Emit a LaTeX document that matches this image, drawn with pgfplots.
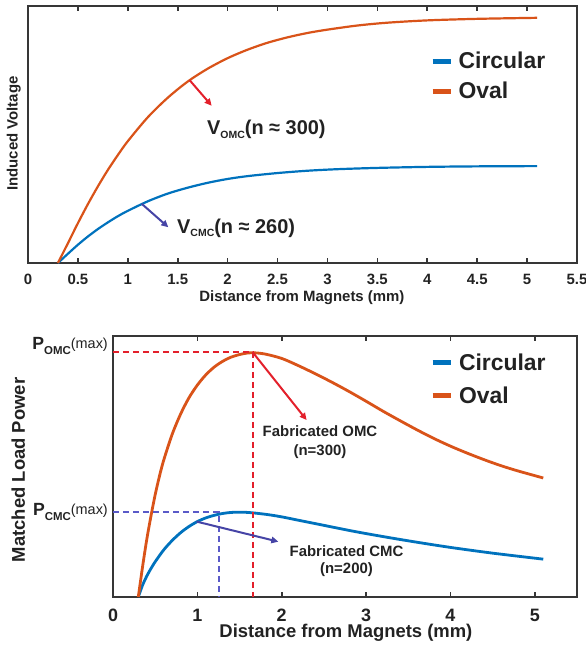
\documentclass[border=0pt]{standalone}
\usepackage{fontspec}
\setmainfont{Liberation Sans}
\usepackage{pgfplots}
\pgfplotsset{compat=1.18}
\usetikzlibrary{arrows.meta}
\definecolor{MBlue}{HTML}{0072BD}
\definecolor{MOrange}{HTML}{D95319}
\definecolor{AxisGray}{HTML}{363636}
\definecolor{Ink}{HTML}{222222}
\definecolor{ArrRed}{HTML}{E3202B}
\definecolor{ArrBlue}{HTML}{4644A6}
\definecolor{DashBlue}{HTML}{5A5AC8}

% top panel: induced voltage
\pgfplotstableread{
x y
0.30 0.000
0.40 0.077
0.50 0.155
0.60 0.229
0.70 0.298
0.80 0.362
0.90 0.420
1.00 0.474
1.20 0.567
1.40 0.643
1.60 0.706
1.80 0.756
2.00 0.797
2.20 0.830
2.40 0.857
2.60 0.878
2.80 0.895
3.00 0.908
3.30 0.924
3.60 0.935
4.00 0.944
4.50 0.950
5.10 0.954
}\VOval
\pgfplotstableread{
x y
0.30 0.000
0.40 0.036
0.50 0.071
0.60 0.103
0.70 0.132
0.80 0.158
0.90 0.182
1.00 0.203
1.20 0.240
1.40 0.270
1.60 0.293
1.80 0.312
2.00 0.327
2.20 0.338
2.50 0.350
2.80 0.359
3.10 0.365
3.50 0.370
4.00 0.374
4.50 0.376
5.10 0.377
}\VCirc
% bottom panel: matched load power
\pgfplotstableread{
x y
0.30 0.000
0.35 0.115
0.40 0.220
0.45 0.310
0.50 0.392
0.55 0.462
0.60 0.523
0.70 0.622
0.80 0.700
0.90 0.763
1.00 0.812
1.10 0.851
1.20 0.881
1.30 0.903
1.40 0.919
1.50 0.929
1.60 0.935
1.66 0.936
1.80 0.931
2.00 0.914
2.20 0.886
2.40 0.855
2.60 0.822
2.80 0.787
3.00 0.750
3.20 0.712
3.40 0.676
3.60 0.641
3.80 0.608
4.00 0.578
4.20 0.551
4.40 0.526
4.60 0.503
4.80 0.483
5.10 0.456
}\POval
\pgfplotstableread{
x y
0.30 0.000
0.35 0.045
0.40 0.080
0.45 0.109
0.50 0.135
0.60 0.180
0.70 0.216
0.80 0.246
0.90 0.270
1.00 0.289
1.10 0.303
1.20 0.313
1.30 0.320
1.40 0.324
1.50 0.325
1.60 0.324
1.70 0.321
1.85 0.315
2.00 0.307
2.20 0.294
2.40 0.281
2.60 0.268
2.80 0.255
3.00 0.243
3.30 0.226
3.60 0.210
4.00 0.190
4.50 0.168
5.10 0.145
}\PCirc

\pgfplotsset{
  fig/.style={
    scale only axis, clip=false,
    ymin=0, ymax=1, ytick=\empty,
    axis line style={line width=2.4bp, AxisGray},
    tick style={line width=1.6bp, AxisGray},
    tick align=inside, major tick length=5bp,
    /pgf/number format/assume math mode=true,
    legend cell align=left,
    legend image code/.code={\draw[##1,line width=5bp] (0bp,0bp) -- (18bp,0bp); \path (25bp,0bp);},
    legend style={draw=none, fill=none, inner sep=0pt, anchor=west, text=Ink,
      nodes={inner sep=0pt}, font=\fontsize{23}{23}\selectfont\bfseries},
  },
}

\begin{document}
\begin{tikzpicture}
\path[use as bounding box] (0bp,0bp) rectangle (586bp,645bp);

\begin{axis}[fig, at={(28bp,382bp)}, anchor=south west,
  width=549bp, height=257bp,
  xmin=0, xmax=5.5, xtick={0,0.5,1,1.5,2,2.5,3,3.5,4,4.5,5,5.5},
  xticklabel style={font=\fontsize{15}{15}\selectfont\bfseries, text=Ink, anchor=base, yshift=-22bp},
  xlabel={Distance from Magnets (mm)}, ylabel={Induced Voltage},
  xlabel style={font=\fontsize{15}{15}\selectfont\bfseries, text=Ink, at={(axis description cs:0.499,-0.15)}, anchor=base},
  ylabel style={font=\fontsize{15}{15}\selectfont\bfseries, text=Ink, at={(axis description cs:-0.0188,0.504)}, anchor=base},
  legend style={at={(axis description cs:0.732,0.727)}, row sep=12bp},
]
\addplot[MBlue, line width=2.2bp, smooth] table {\VCirc};
\addlegendentry{Circular}
\addplot[MOrange, line width=2.2bp, smooth] table {\VOval};
\addlegendentry{Oval}
\draw[ArrRed, line width=2bp, -{Triangle[length=7bp,width=6.5bp]}] (axis cs:1.62,0.711) -- (axis cs:1.84,0.612);
\draw[ArrBlue, line width=2bp, -{Triangle[length=7bp,width=6.5bp]}] (axis cs:1.14,0.230) -- (axis cs:1.406,0.139);
\end{axis}

\begin{axis}[fig, at={(113bp,48bp)}, anchor=south west,
  width=464bp, height=261bp,
  xmin=0, xmax=5.5, xtick={0,1,2,3,4,5},
  xticklabel style={font=\fontsize{18}{18}\selectfont\bfseries, text=Ink, anchor=base, yshift=-24bp},
  xlabel={Distance from Magnets (mm)}, ylabel={Matched Load Power},
  xlabel style={font=\fontsize{18.5}{18.5}\selectfont\bfseries, text=Ink, at={(axis description cs:0.502,-0.157)}, anchor=base},
  ylabel style={font=\fontsize{18.5}{18.5}\selectfont\bfseries, text=Ink, at={(axis description cs:-0.19,0.487)}, anchor=base},
  legend style={at={(axis description cs:0.683,0.835)}, row sep=15bp},
]
\addplot[MBlue, line width=2.8bp, smooth] table {\PCirc};
\addlegendentry{Circular}
\addplot[MOrange, line width=2.8bp, smooth] table {\POval};
\addlegendentry{Oval}
\addplot[ArrRed, line width=1.8bp, dash pattern=on 6bp off 4bp, forget plot] coordinates {(0,0.938) (1.663,0.938) (1.663,0)};
\addplot[DashBlue, line width=1.8bp, dash pattern=on 6bp off 4bp, forget plot] coordinates {(0,0.325) (1.256,0.325) (1.256,0)};
\draw[ArrRed, line width=2bp, -{Triangle[length=7bp,width=6.5bp]}] (axis cs:1.66,0.936) -- (axis cs:2.295,0.678);
\draw[ArrBlue, line width=2bp, -{Triangle[length=7bp,width=6.5bp]}] (axis cs:0.99,0.289) -- (axis cs:1.96,0.212);
\end{axis}

% annotations (px positions of the reference, y measured from the bottom)
\begin{scope}[every node/.style={inner sep=0pt, text=Ink}]
\node[anchor=base west, font=\fontsize{20}{20}\selectfont\bfseries] at (207bp,510bp)
  {V\raisebox{-3.5bp}{\fontsize{10.5}{10.5}\selectfont OMC}(n ≈ 300)};
\node[anchor=base west, font=\fontsize{20}{20}\selectfont\bfseries] at (177bp,411.5bp)
  {V\raisebox{-3.5bp}{\fontsize{10.5}{10.5}\selectfont CMC}(n ≈ 260)};
\node[anchor=base east, font=\fontsize{17.7}{17.7}\selectfont\bfseries] at (108bp,295bp)
  {P\raisebox{-5bp}{\fontsize{11.5}{11.5}\selectfont OMC}\raisebox{1.5bp}{\fontsize{14.5}{14.5}\selectfont\mdseries(max)}};
\node[anchor=base east, font=\fontsize{17.7}{17.7}\selectfont\bfseries] at (108bp,129bp)
  {P\raisebox{-5bp}{\fontsize{11.5}{11.5}\selectfont CMC}\raisebox{1.5bp}{\fontsize{14.5}{14.5}\selectfont\mdseries(max)}};
\node[anchor=base, font=\fontsize{15}{15}\selectfont\bfseries] at (320bp,208bp) {Fabricated OMC};
\node[anchor=base, font=\fontsize{15}{15}\selectfont\bfseries] at (320bp,189bp) {(n=300)};
\node[anchor=base, font=\fontsize{15}{15}\selectfont\bfseries] at (346.5bp,88bp) {Fabricated CMC};
\node[anchor=base, font=\fontsize{15}{15}\selectfont\bfseries] at (346.5bp,71.5bp) {(n=200)};
\end{scope}
\end{tikzpicture}
\end{document}
